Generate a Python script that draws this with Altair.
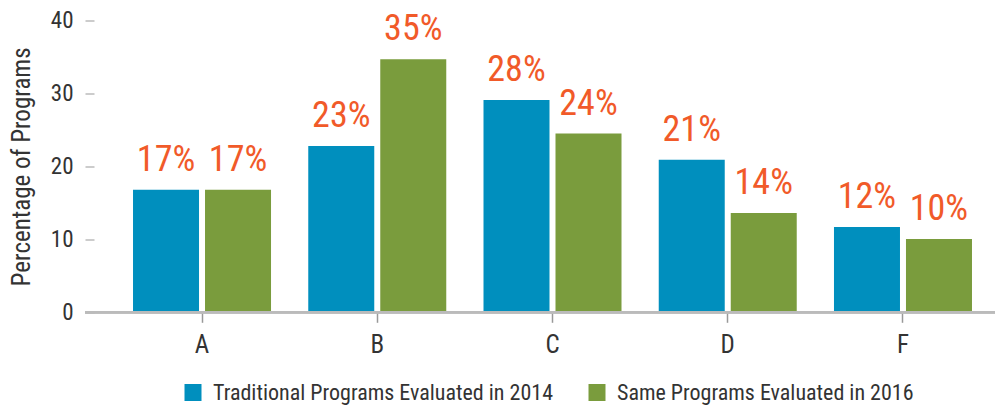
import altair as alt
import pandas as pd

categories = ["A", "B", "C", "D", "F"]
series_names = ["Traditional Programs Evaluated in 2014", "Same Programs Evaluated in 2016"]
trad_2014 = [16.8, 22.8, 29.1, 20.9, 11.7]
same_2016 = [16.8, 34.7, 24.5, 13.6, 10.05]
trad_labels = ["17%", "23%", "28%", "21%", "12%"]
same_labels = ["17%", "35%", "24%", "14%", "10%"]
y_ticks = [0, 10, 20, 30, 40]

rows = []
for i, c in enumerate(categories):
    rows.append({"cat": c, "series": series_names[0], "value": trad_2014[i], "label": trad_labels[i]})
    rows.append({"cat": c, "series": series_names[1], "value": same_2016[i], "label": same_labels[i]})
df = pd.DataFrame(rows)

FONT = "Liberation Sans Narrow, Roboto Condensed, Arial Narrow, sans-serif"
BLUE = "#008FBE"
GREEN = "#7A9C3D"
ORANGE = "#F15A29"
W = 901
H = 291.8

x_enc = alt.X(
    "cat:N",
    sort=categories,
    scale=alt.Scale(domain=categories, range=[20.4, 896.6], paddingInner=0.2125, paddingOuter=0.10625),
    axis=alt.Axis(title=None, domain=False, ticks=True, tickSize=10, tickColor="#999999",
                  tickWidth=1.5, labelFontSize=25, labelColor="#333333", labelFont=FONT,
                  labelPadding=30, labelBaseline="alphabetic", labelAngle=0, grid=False),
)
xo_enc = alt.XOffset("series:N", sort=series_names,
                     scale=alt.Scale(domain=series_names, paddingInner=0.0833, paddingOuter=0))
y_enc = alt.Y(
    "value:Q",
    scale=alt.Scale(domain=[0, 40], nice=False, zero=True),
    axis=alt.Axis(values=y_ticks, domain=False, ticks=True, tickSize=9, tickColor="#999999",
                  tickWidth=1, labelFontSize=23, labelColor="#333333", labelFont=FONT,
                  labelPadding=12, grid=False, title="Percentage of Programs",
                  titleFont=FONT, titleFontSize=25, titleFontWeight="normal",
                  titleColor="#333333", titleX=-65, titleY=H / 2, titleAngle=270,
                  titleAlign="center", titleBaseline="alphabetic"),
)

base = alt.Chart(df)

bars = base.mark_bar().encode(
    x=x_enc,
    xOffset=xo_enc,
    y=y_enc,
    color=alt.Color("series:N", sort=series_names,
                    scale=alt.Scale(domain=series_names, range=[BLUE, GREEN]),
                    legend=alt.Legend(title=None, orient="none", direction="horizontal",
                                      legendX=88, legendY=361, symbolType="square",
                                      symbolSize=289, symbolStrokeWidth=0, labelFont=FONT,
                                      labelFontSize=22, labelColor="#333333", labelOffset=9,
                                      labelLimit=0, columnPadding=33, padding=0)),
)

texts = base.mark_text(dy=-19, baseline="alphabetic", align="center", fontSize=36,
                       color=ORANGE, font=FONT).encode(
    x=x_enc,
    xOffset=xo_enc,
    y=y_enc,
    text="label:N",
)

baseline = base.mark_rule(color="#bbbbbb", strokeWidth=2).encode(
    x=alt.value(-9), x2=alt.value(W), y=alt.datum(0)
)

chart = alt.layer(bars, texts, baseline).properties(
    width=W, height=H,
    autosize=alt.AutoSizeParams(type="none"),
    padding={"left": 86, "top": 12.5, "right": 0, "bottom": 92.7},
).configure_view(stroke=None)

chart.save("out.html", embed_options={"renderer": "svg", "actions": False})
